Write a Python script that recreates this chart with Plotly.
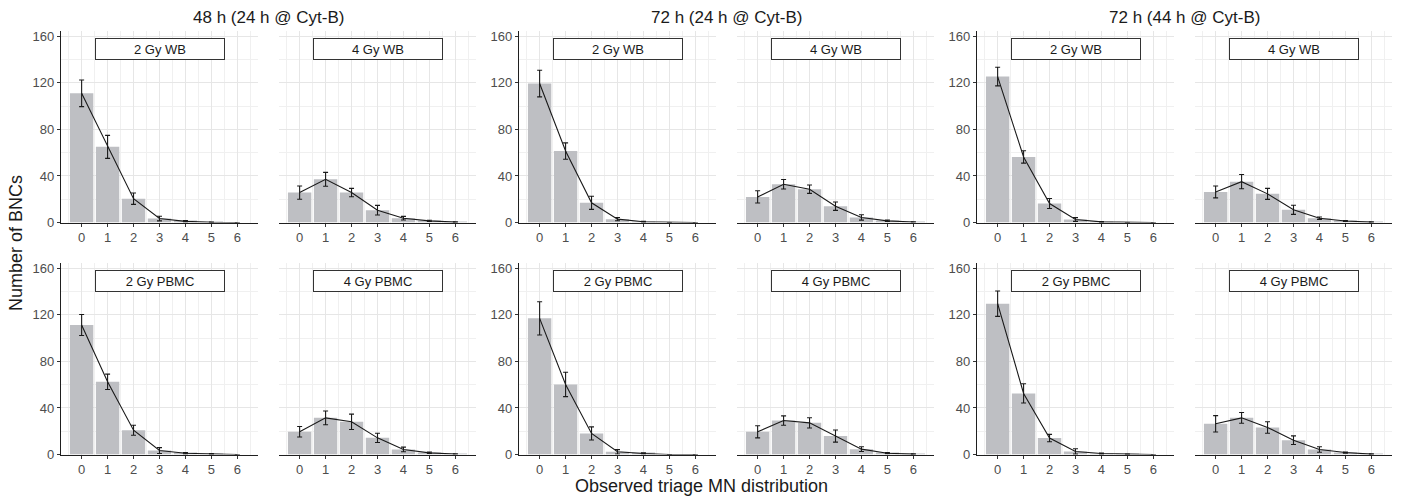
import plotly.graph_objects as go

# ---------------- data ----------------
mn_counts = [0, 1, 2, 3, 4, 5, 6]
tick_labels = ["0", "1", "2", "3", "4", "5", "6"]

col_titles = ["48 h (24 h @ Cyt-B)", "72 h (24 h @ Cyt-B)", "72 h (44 h @ Cyt-B)"]
strip_labels_wb = ["2 Gy WB", "4 Gy WB", "2 Gy WB", "4 Gy WB", "2 Gy WB", "4 Gy WB"]
strip_labels_pbmc = ["2 Gy PBMC", "4 Gy PBMC", "2 Gy PBMC", "4 Gy PBMC", "2 Gy PBMC", "4 Gy PBMC"]

# Whole blood (top row)
wb_48_2gy = [111.0, 65.0, 20.5, 3.4, 1.0, 0.2, 0.0]
wb_48_2gy_err = [11.4, 9.9, 4.9, 2.0, 0.6, 0.2, 0.0]
wb_48_4gy = [25.7, 37.1, 25.7, 10.6, 3.7, 1.4, 0.3]
wb_48_4gy_err = [5.7, 6.0, 3.6, 4.1, 1.6, 0.5, 0.2]
wb_72a_2gy = [119.4, 61.4, 16.9, 2.9, 0.6, 0.0, 0.0]
wb_72a_2gy_err = [11.4, 7.0, 5.6, 1.4, 0.4, 0.0, 0.0]
wb_72a_4gy = [22.0, 32.9, 28.6, 14.0, 4.3, 1.4, 0.4]
wb_72a_4gy_err = [5.3, 4.1, 3.6, 3.6, 2.3, 0.6, 0.2]
wb_72b_2gy = [125.4, 56.3, 16.3, 2.6, 0.5, 0.0, 0.0]
wb_72b_2gy_err = [8.0, 5.3, 4.3, 1.6, 0.4, 0.0, 0.0]
wb_72b_4gy = [26.3, 35.1, 24.6, 10.9, 3.7, 1.3, 0.3]
wb_72b_4gy_err = [5.1, 6.1, 4.7, 3.9, 1.0, 0.4, 0.2]

# PBMC (bottom row)
pbmc_48_2gy = [111.3, 62.5, 20.9, 3.4, 1.1, 0.5, 0.0]
pbmc_48_2gy_err = [9.0, 6.6, 4.3, 2.5, 0.6, 0.3, 0.0]
pbmc_48_4gy = [19.5, 31.5, 28.1, 14.3, 4.3, 1.4, 0.4]
pbmc_48_4gy_err = [4.5, 5.9, 6.6, 4.0, 2.0, 0.6, 0.2]
pbmc_72a_2gy = [117.0, 60.2, 18.1, 2.3, 0.9, 0.0, 0.0]
pbmc_72a_2gy_err = [14.3, 10.5, 5.6, 1.9, 0.5, 0.0, 0.0]
pbmc_72a_4gy = [19.5, 29.2, 27.2, 15.8, 4.6, 1.1, 0.3]
pbmc_72a_4gy_err = [5.2, 4.0, 4.4, 5.2, 2.0, 0.5, 0.2]
pbmc_72b_2gy = [129.6, 52.5, 14.1, 2.6, 0.8, 0.2, 0.0]
pbmc_72b_2gy_err = [10.9, 8.3, 3.2, 2.3, 0.5, 0.2, 0.0]
pbmc_72b_4gy = [26.4, 31.5, 23.2, 12.3, 4.3, 1.7, 0.3]
pbmc_72b_4gy_err = [7.0, 4.6, 4.9, 3.7, 2.4, 0.5, 0.2]

top_values = [wb_48_2gy, wb_48_4gy, wb_72a_2gy, wb_72a_4gy, wb_72b_2gy, wb_72b_4gy]
top_errors = [wb_48_2gy_err, wb_48_4gy_err, wb_72a_2gy_err, wb_72a_4gy_err, wb_72b_2gy_err, wb_72b_4gy_err]
bot_values = [pbmc_48_2gy, pbmc_48_4gy, pbmc_72a_2gy, pbmc_72a_4gy, pbmc_72b_2gy, pbmc_72b_4gy]
bot_errors = [pbmc_48_2gy_err, pbmc_48_4gy_err, pbmc_72a_2gy_err, pbmc_72a_4gy_err, pbmc_72b_2gy_err, pbmc_72b_4gy_err]

# ---------------- layout geometry ----------------
W, H = 1401, 497          # target picture size; positions below are picture pixels
FIG_H = 507               # layout height (the captured picture is squashed 507 -> 497)
Y_BIAS = 1.0              # small downward shift seen in the capture
FONT = "Liberation Sans, Arial, Helvetica, sans-serif"
left_px = [61, 279, 519, 737, 977, 1195]
panel_w = 197
rows_px = [(29.5, 221.5), (261.5, 453.5)]
BAR_COLOR = "#BEBFC3"
GRID_MAJOR = "#E6E6E6"
GRID_MINOR = "#F0F0F0"
AXIS_COLOR = "#1F1F1F"
TICK_FONT = dict(family=FONT, size=13, color="#4D4D4D")


def fx(px):
    return px / W


def fy(py):
    return 1 - (py - Y_BIAS) / H


fig = go.Figure()
layout_axes = {}
annotations = []

for r in range(2):
    vals_list = top_values if r == 0 else bot_values
    errs_list = top_errors if r == 0 else bot_errors
    strips = strip_labels_wb if r == 0 else strip_labels_pbmc
    for c in range(6):
        n = r * 6 + c + 1
        xa = "x" if n == 1 else f"x{n}"
        ya = "y" if n == 1 else f"y{n}"
        vals = vals_list[c]
        errs = errs_list[c]
        fig.add_trace(go.Bar(
            x=mn_counts, y=vals, xaxis=xa, yaxis=ya,
            marker=dict(color=BAR_COLOR, line=dict(width=0)),
            width=0.9, showlegend=False, hoverinfo="x+y",
        ))
        fig.add_trace(go.Scatter(
            x=mn_counts, y=vals, xaxis=xa, yaxis=ya, mode="lines",
            line=dict(color="#1A1A1A", width=1.1),
            error_y=dict(type="data", array=errs, visible=True,
                         color="#1A1A1A", thickness=1.1, width=2.5),
            showlegend=False,
        ))
        top, bot = rows_px[r]
        has_y = (c % 2 == 0)
        xkey = "xaxis" if n == 1 else f"xaxis{n}"
        ykey = "yaxis" if n == 1 else f"yaxis{n}"
        layout_axes[xkey] = dict(
            domain=[fx(left_px[c]), fx(left_px[c] + panel_w)], anchor=ya, range=[-0.795, 6.795],
            tickmode="array", tickvals=mn_counts, ticktext=tick_labels,
            showgrid=True, gridcolor=GRID_MAJOR, gridwidth=1,
            minor=dict(tick0=0, dtick=0.5, showgrid=True, gridcolor=GRID_MINOR, gridwidth=1),
            showline=True, linecolor=AXIS_COLOR, linewidth=1.4,
            ticks="outside", ticklen=3, tickcolor="#333333", tickwidth=1,
            zeroline=False, tickfont=TICK_FONT, fixedrange=True,
        )
        layout_axes[ykey] = dict(
            domain=[fy(bot), fy(top)], anchor=xa, range=[0, 165],
            tickmode="array", tickvals=[0, 40, 80, 120, 160],
            showgrid=True, gridcolor=GRID_MAJOR, gridwidth=1,
            minor=dict(tick0=0, dtick=20, showgrid=True, gridcolor=GRID_MINOR, gridwidth=1),
            showline=has_y, linecolor=AXIS_COLOR, linewidth=1.4,
            ticks="outside" if has_y else "", ticklen=3, tickcolor="#333333",
            showticklabels=has_y, zeroline=False, tickfont=TICK_FONT, fixedrange=True,
        )
        annotations.append(dict(
            text=strips[c], xref=f"{xa} domain", yref=f"{ya} domain",
            x=0.5, y=1 - 18.0 / (bot - top), xanchor="center", yanchor="middle",
            showarrow=False, width=128, height=20, borderpad=0, borderwidth=1,
            bordercolor="#333333", bgcolor="white",
            font=dict(family=FONT, size=13, color="#1A1A1A"),
        ))

for g in range(3):
    xc_px = (left_px[2 * g] + left_px[2 * g + 1] + panel_w) / 2
    annotations.append(dict(
        text=col_titles[g], xref="paper", yref="paper", x=fx(xc_px), y=fy(17),
        xanchor="center", yanchor="middle", showarrow=False,
        font=dict(family=FONT, size=17, color="#1A1A1A"),
    ))

annotations.append(dict(
    text="Number of BNCs", xref="paper", yref="paper", x=fx(16), y=fy(242),
    xanchor="center", yanchor="middle", textangle=-90, showarrow=False,
    font=dict(family=FONT, size=18, color="#1A1A1A"),
))
annotations.append(dict(
    text="Observed triage MN distribution", xref="paper", yref="paper", x=fx(701), y=fy(485),
    xanchor="center", yanchor="middle", showarrow=False,
    font=dict(family=FONT, size=18, color="#1A1A1A"),
))

fig.update_layout(
    width=W, height=FIG_H, margin=dict(l=0, r=0, t=0, b=0),
    paper_bgcolor="white", plot_bgcolor="white", autosize=False,
    bargap=0.1, showlegend=False, annotations=annotations,
    font=dict(family=FONT),
    **layout_axes,
)

PAGE_FIX = (
    "var d=document.documentElement,b=document.body;"
    "d.style.margin='0';b.style.margin='0';b.style.overflow='hidden';"
)

fig.write_html(
    "out.html",
    config={"displayModeBar": False, "responsive": False},
    post_script=PAGE_FIX,
)
